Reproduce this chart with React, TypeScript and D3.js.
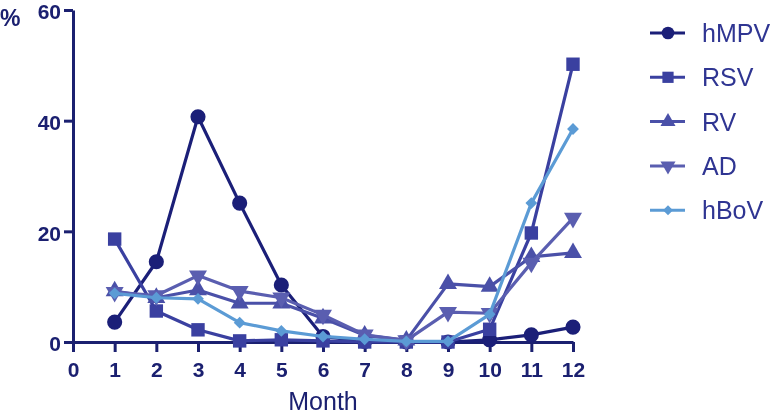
import { useEffect, useRef } from 'react';
import * as d3 from 'd3';

const months = [1, 2, 3, 4, 5, 6, 7, 8, 9, 10, 11, 12];
const xTicks = [0, 1, 2, 3, 4, 5, 6, 7, 8, 9, 10, 11, 12];
const yTicks = [0, 20, 40, 60];

const hMPV = [3.6, 14.5, 40.7, 25.1, 10.3, 1.0, 0.1, 0, 0, 0.4, 1.3, 2.7];
const RSV = [18.6, 5.6, 2.2, 0.2, 0.4, 0.2, 0, 0, 0, 2.3, 19.7, 50.2];
const RV = [9.2, 8.0, 9.4, 7.0, 7.0, 4.3, 1.2, 0.3, 10.5, 10.0, 15.4, 16.1];
const AD = [9.0, 8.4, 12.0, 9.2, 8.0, 4.9, 1.3, 0.3, 5.4, 5.2, 14.3, 22.4];
const hBoV = [8.8, 8.0, 7.8, 3.5, 2.0, 1.0, 0.5, 0.1, 0.1, 5.0, 25.1, 38.5];

const seriesNames = ['hMPV', 'RSV', 'RV', 'AD', 'hBoV'];
const seriesValues = [hMPV, RSV, RV, AD, hBoV];
const seriesColors = ['#1b1f78', '#3a40a0', '#4a50a8', '#5a5eb0', '#5b9bd5'];
// hBoV diamond = square turned 45deg
const seriesSymbols = [d3.symbolCircle, d3.symbolSquare, d3.symbolTriangle, d3.symbolTriangle, d3.symbolSquare];

export default function App() {
  const rootRef = useRef<HTMLDivElement | null>(null);

  useEffect(() => {
    const container = rootRef.current;
    if (!container) return undefined;
    d3.select(container).selectAll('*').remove();

    const width = 779;
    const height = 417;
    const axisColor = '#1b2070';
    const font = 'Liberation Sans, Arial, sans-serif';

    const svg = d3
      .select(container)
      .append('svg')
      .attr('width', width)
      .attr('height', height)
      .style('position', 'fixed')
      .style('left', '0px')
      .style('top', '0px');

    const x = d3.scaleLinear().domain([0, 12]).range([73, 573]);
    const y = d3.scaleLinear().domain([0, 60]).range([342, 10]);

    // axes
    const yAxis = svg.append('g').attr('transform', `translate(${x(0)},0)`).call(
      d3.axisLeft(y).tickValues(yTicks).tickSize(9).tickPadding(3).tickSizeOuter(0)
    );
    const xAxis = svg.append('g').attr('transform', `translate(0,${y(0)})`).call(
      d3.axisBottom(x).tickValues(xTicks).tickSize(10).tickPadding(8).tickSizeOuter(0)
    );
    [yAxis, xAxis].forEach(ax => {
      ax.select('.domain').attr('stroke', axisColor).attr('stroke-width', 3);
      ax.selectAll('.tick line').attr('stroke', axisColor).attr('stroke-width', 3);
      ax.selectAll('.tick text')
        .attr('fill', axisColor)
        .attr('font-family', font)
        .attr('font-weight', 'bold')
        .attr('font-size', '21px');
    });
    yAxis.selectAll('.tick text').attr('dy', '0.42em');
    xAxis.selectAll('.tick text').attr('y', 35).attr('dy', 0);

    svg.append('text')
      .attr('x', 0)
      .attr('y', 26)
      .attr('fill', axisColor)
      .attr('font-family', font)
      .attr('font-weight', 'bold')
      .attr('font-size', '23px')
      .text('%');

    svg.append('text')
      .attr('x', 323)
      .attr('y', 410)
      .attr('text-anchor', 'middle')
      .attr('fill', axisColor)
      .attr('font-family', font)
      .attr('font-size', '25px')
      .text('Month');

    const line = d3
      .line<number>()
      .x((_, i) => x(months[i]))
      .y(d => y(d));

    const symbolSize = (i: number) => (i === 0 ? 180 : i === 4 ? 70 : i === 1 ? 180 : 140);
    const symbolRot = (i: number) => (i === 3 ? 180 : i === 4 ? 45 : 0);

    seriesValues.forEach((vals, i) => {
      const g = svg.append('g');
      g.append('path')
        .datum(vals)
        .attr('fill', 'none')
        .attr('stroke', seriesColors[i])
        .attr('stroke-width', 3.2)
        .attr('stroke-linejoin', 'round')
        .attr('d', line);
      g.selectAll('path.pt')
        .data(vals)
        .join('path')
        .attr('class', 'pt')
        .attr('fill', seriesColors[i])
        .attr('transform', (d, j) => `translate(${x(months[j])},${y(d)}) rotate(${symbolRot(i)})`)
        .attr('d', d3.symbol().type(seriesSymbols[i]).size(symbolSize(i)));
    });

    // legend
    const legend = svg.append('g').attr('transform', 'translate(650,33)');
    seriesNames.forEach((name, i) => {
      const ly = i * 44.3;
      legend.append('line')
        .attr('x1', 0).attr('x2', 35).attr('y1', ly).attr('y2', ly)
        .attr('stroke', seriesColors[i]).attr('stroke-width', 3);
      legend.append('path')
        .attr('transform', `translate(18,${ly}) rotate(${symbolRot(i)})`)
        .attr('fill', seriesColors[i])
        .attr('d', d3.symbol().type(seriesSymbols[i]).size(symbolSize(i) * 0.7));
      legend.append('text')
        .attr('x', 52)
        .attr('y', ly)
        .attr('dy', '0.36em')
        .attr('fill', '#2f3592')
        .attr('font-family', font)
        .attr('font-size', '25px')
        .text(name);
    });

    return () => {
      d3.select(container).selectAll('*').remove();
    };
  }, []);

  return <div ref={rootRef} />;
}
